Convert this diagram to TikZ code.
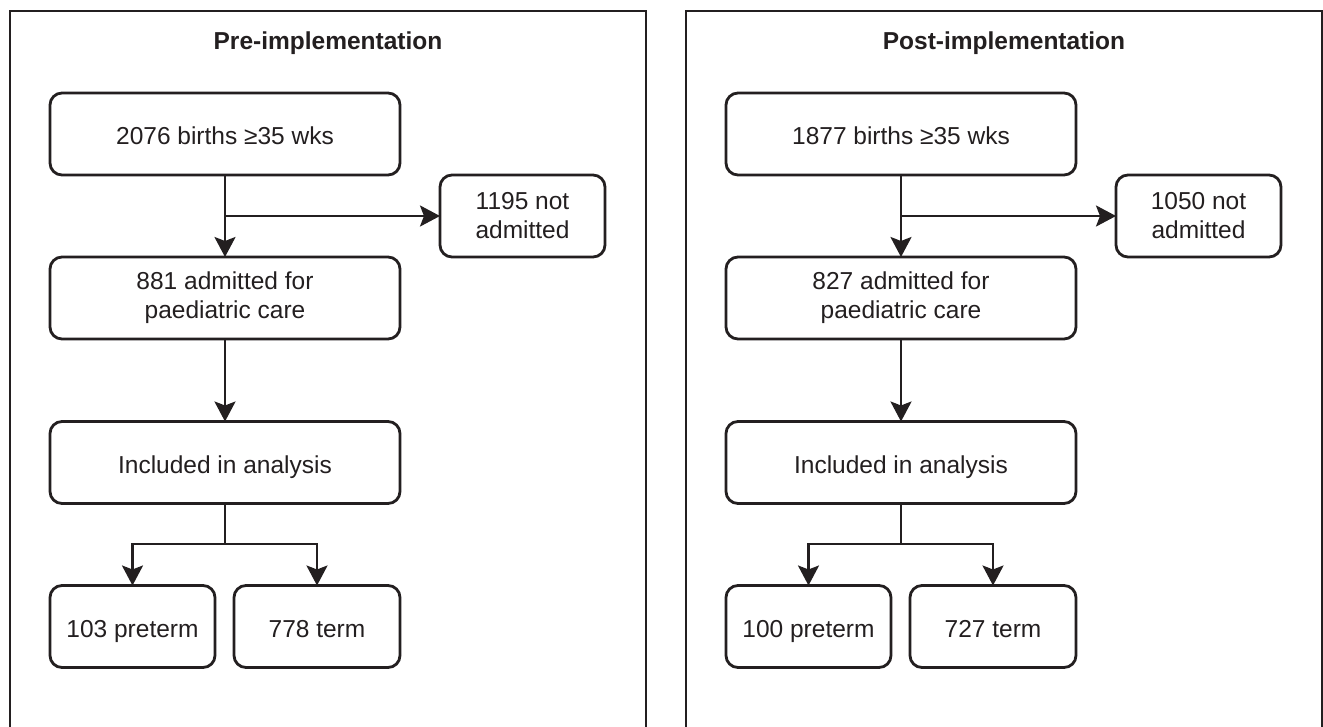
\documentclass[tikz,border=0pt]{standalone}
\usepackage{fontspec}
\setmainfont{Liberation Sans}
\usetikzlibrary{arrows.meta}
\definecolor{ink}{HTML}{231F20}
\tikzset{
  flowbox/.style={draw=ink, line width=2.8pt, rounded corners=12pt, align=center,
    inner sep=0pt, outer sep=0pt, text=ink, font=\fontsize{24.5}{29}\selectfont},
  oneline/.style={text height=21pt, text depth=0pt},
  widebox/.style={flowbox, minimum width=350pt, minimum height=82pt},
  smallbox/.style={flowbox, minimum width=165pt, minimum height=82pt},
  link/.style={draw=ink, line width=2.6pt, -{Stealth[length=20pt,width=21pt,inset=4pt]}},
  frame/.style={draw=ink, line width=2.6pt},
  paneltitle/.style={text=ink, font=\bfseries\fontsize{24.5}{29}\selectfont}
}
% one cohort panel: #1 x offset, #2 name prefix, #3 title, #4 births,
% #5 not admitted, #6 admitted, #7 preterm, #8 term
\newcommand\cohortpanel[8]{%
  \begin{scope}[xshift=#1pt]
    \draw[frame] (10,760) -- (10,11) -- (646,11) -- (646,760);
    \node[paneltitle] (#2title) at (328,43) {#3};
    \node[widebox, oneline] (#2births) at (225,134) {#4 births ≥35 wks};
    \node[smallbox] (#2out) at (522.5,216) {#5 not\\admitted};
    \node[widebox] (#2adm) at (225,298) {#6 admitted for\\paediatric care};
    \node[widebox, oneline] (#2incl) at (225,462.5) {Included in analysis};
    \node[smallbox, oneline] (#2pre) at (132.5,626.5) {#7 preterm};
    \node[smallbox, oneline, minimum width=166pt] (#2term) at (317,626.5) {#8 term};
    \coordinate (#2split) at (225,544);
    \draw[link] (#2births.south) -- (#2adm.north);
    \draw[link] (#2births.south |- #2out.west) -- (#2out.west);
    \draw[link] (#2adm.south) -- (#2incl.north);
    \draw[link] (#2incl.south) -- (#2split) -| (#2pre.north);
    \draw[link] (#2split) -| (#2term.north);
  \end{scope}%
}
\begin{document}
\begin{tikzpicture}[x=1pt, y=-1pt]
  \useasboundingbox (0,0) rectangle (1323,726);
  \clip (0,0) rectangle (1323,726);
  \fill[white] (0,0) rectangle (1323,726);
  \cohortpanel{0}{pre}{Pre-implementation}{2076}{1195}{881}{103}{778}
  \cohortpanel{676}{post}{Post-implementation}{1877}{1050}{827}{100}{727}
\end{tikzpicture}
\end{document}
